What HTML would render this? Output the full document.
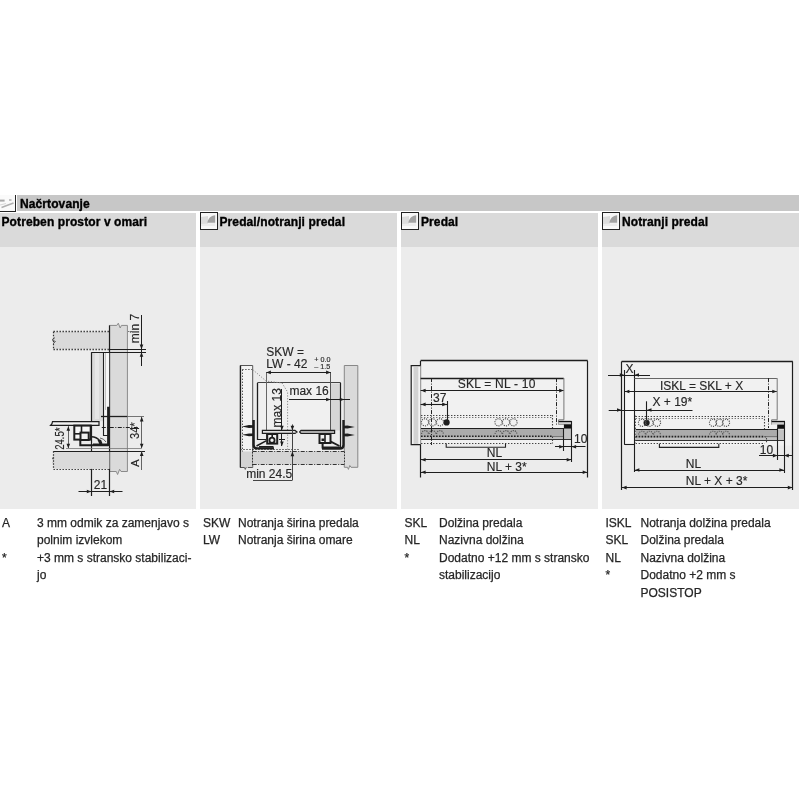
<!DOCTYPE html>
<html><head><meta charset="utf-8">
<style>
html,body{margin:0;padding:0;background:#fff;width:800px;height:800px;overflow:hidden;}
body{position:relative;filter:grayscale(1);font-family:"Liberation Sans",sans-serif;color:#262626;}
.a{position:absolute;}
.hb{left:17px;top:195px;width:782px;height:16px;background:#c7c7c7;}
.ch{top:213px;height:34px;background:#dadada;}
.cc{top:247px;height:262px;background:#ececec;}
.c1{left:0;width:196px;}
.c2{left:200px;width:197px;}
.c3{left:401px;width:197px;}
.c4{left:602px;width:197px;}
.bt{font-weight:bold;font-size:12px;color:#000;white-space:nowrap;line-height:14px;letter-spacing:0.1px;-webkit-text-stroke:0.35px #000;}
.tx{font-size:12px;line-height:17.4px;white-space:nowrap;color:#262626;-webkit-text-stroke:0.25px #262626;}
.ic{box-sizing:border-box;width:17.8px;height:17.6px;border:1.4px solid #222;background:#f8f8f8;overflow:hidden;}
svg.dw{position:absolute;left:0;top:0;filter:blur(0.25px);}
</style></head><body>
<div class="a hb"></div>
<div class="a" style="left:0;top:194.8px;width:15.3px;height:16.3px;border-right:1.5px solid #262626;border-bottom:1.5px solid #262626;background:#fafafa;overflow:hidden;"><svg width="16" height="17" style="position:absolute;left:0;top:0"><path d="M0,5.6 L4.6,5.6" stroke="#a8a8a8" stroke-width="2"/><path d="M9,5 L11.5,5" stroke="#b4b4b4" stroke-width="1.6"/><path d="M1.5,12.5 L13.5,8" stroke="#b0b0b0" stroke-width="1.6"/><path d="M0,10 L6,8.5" stroke="#d8d8d8" stroke-width="1.2"/></svg></div>
<div class="a bt" style="left:20px;top:196.5px;">Načrtovanje</div>

<div class="a ch c1"></div><div class="a ch c2"></div><div class="a ch c3"></div><div class="a ch c4"></div>
<div class="a cc c1"></div><div class="a cc c2"></div><div class="a cc c3"></div><div class="a cc c4"></div>

<div class="a bt" style="left:1.5px;top:215px;">Potreben prostor v omari</div>
<div class="a ic" style="left:200px;top:212.2px;"><svg width="15.2" height="15" viewBox="0 0 15.2 15" style="position:absolute;left:0;top:0"><path d="M0,4 L7,3 L7,11.5 L0,12 Z" fill="#dcdcdc"/><path d="M0,11 L14.2,10 L14.2,13 L0,13 Z" fill="#ececec"/><path d="M6.4,9.8 C6.8,5.5 9.8,2.6 14.2,2.2 L14.2,9.8 Z" fill="#a2a2a2"/></svg></div>
<div class="a bt" style="left:219.5px;top:215px;">Predal/notranji predal</div>
<div class="a ic" style="left:401px;top:212.2px;"><svg width="15.2" height="15" viewBox="0 0 15.2 15" style="position:absolute;left:0;top:0"><path d="M0,4 L7,3 L7,11.5 L0,12 Z" fill="#dcdcdc"/><path d="M0,11 L14.2,10 L14.2,13 L0,13 Z" fill="#ececec"/><path d="M6.4,9.8 C6.8,5.5 9.8,2.6 14.2,2.2 L14.2,9.8 Z" fill="#a2a2a2"/></svg></div>
<div class="a bt" style="left:421px;top:215px;">Predal</div>
<div class="a ic" style="left:602px;top:212.2px;"><svg width="15.2" height="15" viewBox="0 0 15.2 15" style="position:absolute;left:0;top:0"><path d="M0,4 L7,3 L7,11.5 L0,12 Z" fill="#dcdcdc"/><path d="M0,11 L14.2,10 L14.2,13 L0,13 Z" fill="#ececec"/><path d="M6.4,9.8 C6.8,5.5 9.8,2.6 14.2,2.2 L14.2,9.8 Z" fill="#a2a2a2"/></svg></div>
<div class="a bt" style="left:622px;top:215px;">Notranji predal</div>

<svg class="dw" width="800" height="800" viewBox="0 0 800 800" font-family="Liberation Sans, sans-serif">
<rect x="53.5" y="331.8" width="56" height="17.3" fill="#dadada"/>
<line x1="53.5" y1="331.5" x2="109.6" y2="331.5" stroke="#333" stroke-width="1.3" stroke-dasharray="1.4,1.6"/>
<line x1="53.5" y1="349.5" x2="109.6" y2="349.5" stroke="#333" stroke-width="1.3" stroke-dasharray="1.4,1.6"/>
<line x1="53.5" y1="331.8" x2="53.5" y2="349.2" stroke="#333" stroke-width="1.2" stroke-dasharray="1.4,1.6"/>
<line x1="128" y1="331.5" x2="132" y2="331.5" stroke="#777" stroke-width="1" stroke-dasharray="1.4,1.6"/>
<path d="M55,337.5 L52,340 L55.5,341.5 L53,344" fill="none" stroke="#555" stroke-width="0.9"/>
<path d="M55,456 L52,458.5 L55.5,460 L53,462.5" fill="none" stroke="#555" stroke-width="0.9"/>
<path d="M109.6,471.5 L109.6,325.4 L116.8,325.4 L118.3,323.2 L120.2,328 L121.4,325.4 L127.4,325.4 L127.4,471.5 L121,471.5 L119.6,469.3 L117.6,474.5 L116.3,471.5 Z" fill="#dadada" stroke="#8a8a8a" stroke-width="1"/>
<line x1="109.5" y1="325.4" x2="109.5" y2="496" stroke="#1e1e1e" stroke-width="1.2"/>
<rect x="91.4" y="352.2" width="12.3" height="69" fill="#dadada"/>
<rect x="95" y="353" width="4" height="66" fill="#e6e6e6"/>
<rect x="104.2" y="352.8" width="5" height="63.5" fill="#f6f6f6"/>
<line x1="91.5" y1="352.2" x2="91.5" y2="496" stroke="#1e1e1e" stroke-width="1.2"/>
<path d="M103.5,352.2 L103.5,435.5 L108,435.5" fill="none" stroke="#1e1e1e" stroke-width="1.1"/>
<line x1="105.5" y1="352.2" x2="105.5" y2="410" stroke="#aaa" stroke-width="0.7"/>
<line x1="109.4" y1="349.5" x2="146" y2="349.5" stroke="#1e1e1e" stroke-width="1.2"/>
<line x1="91.4" y1="352.5" x2="146" y2="352.5" stroke="#1e1e1e" stroke-width="1.2"/>
<line x1="141.5" y1="315" x2="141.5" y2="366" stroke="#1e1e1e" stroke-width="1"/>
<polygon points="141.50,349.20 139.70,344.60 143.30,344.60" fill="#1e1e1e"/>
<polygon points="141.50,352.20 139.70,356.80 143.30,356.80" fill="#1e1e1e"/>
<text x="138.6" y="343.2" font-size="12" text-anchor="start" fill="#262626" stroke="#262626" stroke-width="0.15" transform="rotate(-90 138.6 343.2)">min 7</text>
<rect x="53.5" y="451.3" width="56" height="17.6" fill="#dadada"/>
<line x1="53.5" y1="451.3" x2="53.5" y2="469" stroke="#333" stroke-width="1.2" stroke-dasharray="1.4,1.6"/>
<line x1="53.5" y1="469.5" x2="109.6" y2="469.5" stroke="#333" stroke-width="1.2" stroke-dasharray="1.4,1.6"/>
<line x1="53.5" y1="451.5" x2="145" y2="451.5" stroke="#1e1e1e" stroke-width="1.2"/>
<line x1="66" y1="448.5" x2="141.5" y2="448.5" stroke="#777" stroke-width="0.8"/>
<line x1="101" y1="416.5" x2="127.4" y2="416.5" stroke="#1e1e1e" stroke-width="1.3"/>
<line x1="127.4" y1="416.5" x2="144" y2="416.5" stroke="#666" stroke-width="0.9"/>
<line x1="101.8" y1="427.5" x2="138.5" y2="427.5" stroke="#1e1e1e" stroke-width="1" stroke-dasharray="4,1.5,1,1.5"/>
<path d="M108.4,406.7 L108.4,444.8 L93,444.8" fill="none" stroke="#1e1e1e" stroke-width="2.6"/>
<path d="M52.5,421.6 L99,421.6 L99,425.4 L50.5,425.4 L52,423.6 Z" fill="#f3f3f3" stroke="#1e1e1e" stroke-width="1.2"/>
<rect x="74.3" y="425.6" width="16.4" height="14" fill="#f6f6f6" stroke="#1e1e1e" stroke-width="2"/>
<line x1="81.5" y1="425.6" x2="81.5" y2="433.8" stroke="#1e1e1e" stroke-width="1.6"/>
<line x1="74.3" y1="433.8" x2="81.5" y2="433.8" stroke="#1e1e1e" stroke-width="1.6"/>
<rect x="80.5" y="432.6" width="8.2" height="7.4" fill="#f0f0f0" stroke="#1e1e1e" stroke-width="2"/>
<path d="M80.3,440 L80.3,445.2 L108.5,445.2" fill="none" stroke="#1e1e1e" stroke-width="2"/>
<path d="M91.5,436.8 Q96.5,437 99.5,440.5 L101.5,444.5" fill="none" stroke="#1e1e1e" stroke-width="1.4"/>
<path d="M97.5,440 L101,439.8 L102.5,443.5 L99.5,444.2 Z" fill="#1e1e1e"/>
<path d="M100,438 Q104,438.5 106,442" fill="none" stroke="#555" stroke-width="0.9"/>
<line x1="68.5" y1="426.2" x2="68.5" y2="448" stroke="#555" stroke-width="0.9"/>
<polygon points="68.30,426.20 66.50,430.80 70.10,430.80" fill="#1e1e1e"/>
<polygon points="68.30,448.30 66.50,443.70 70.10,443.70" fill="#1e1e1e"/>
<text x="63.8" y="449.8" font-size="12" text-anchor="start" fill="#262626" stroke="#262626" stroke-width="0.15" transform="rotate(-90 63.8 449.8)" textLength="22.4" lengthAdjust="spacingAndGlyphs">24.5*</text>
<line x1="141.5" y1="416.8" x2="141.5" y2="448.3" stroke="#555" stroke-width="0.9"/>
<polygon points="141.70,416.80 139.90,421.40 143.50,421.40" fill="#1e1e1e"/>
<polygon points="141.70,448.30 139.90,443.70 143.50,443.70" fill="#1e1e1e"/>
<text x="138.6" y="439" font-size="12" text-anchor="start" fill="#262626" stroke="#262626" stroke-width="0.15" transform="rotate(-90 138.6 439)" textLength="16.6" lengthAdjust="spacingAndGlyphs">34*</text>
<line x1="141.5" y1="451.3" x2="141.5" y2="470" stroke="#555" stroke-width="0.9"/>
<polygon points="141.70,451.30 139.90,455.90 143.50,455.90" fill="#1e1e1e"/>
<text x="138.6" y="467" font-size="11.6" text-anchor="start" fill="#262626" stroke="#262626" stroke-width="0.15" transform="rotate(-90 138.6 467)">A</text>
<line x1="78.5" y1="491.5" x2="122.5" y2="491.5" stroke="#1e1e1e" stroke-width="1.1"/>
<polygon points="91.40,491.50 86.80,489.70 86.80,493.30" fill="#1e1e1e"/>
<polygon points="109.60,491.50 114.20,489.70 114.20,493.30" fill="#1e1e1e"/>
<text x="100.5" y="489" font-size="12" text-anchor="middle" fill="#262626" stroke="#262626" stroke-width="0.15">21</text>
<path d="M240.3,365.5 L252.7,365.5 L252.7,467.5 L248,467.5 L246.8,465.6 L245.3,469.4 L244.5,467.5 L240.3,467.5 Z" fill="#f3f3f3" stroke="#555" stroke-width="1"/>
<line x1="240.5" y1="365.5" x2="240.5" y2="467.5" stroke="#1e1e1e" stroke-width="1.3"/>
<line x1="242.5" y1="369.6" x2="242.5" y2="467" stroke="#555" stroke-width="1" stroke-dasharray="1.4,1.6"/>
<line x1="242.2" y1="369.5" x2="252.7" y2="369.5" stroke="#555" stroke-width="1" stroke-dasharray="1.4,1.6"/>
<rect x="240.9" y="451.5" width="11.3" height="15.5" fill="#d4d4d4"/>
<path d="M344.3,365.5 L357.8,365.5 L357.8,467.3 L351,467.3 L349.8,465.5 L348.4,469.4 L347.5,467.3 L344.3,467.3 Z" fill="#dadada" stroke="#888" stroke-width="1"/>
<rect x="257.4" y="382.9" width="83.3" height="47" fill="#f0f0f0"/>
<line x1="257.4" y1="382.5" x2="340.7" y2="382.5" stroke="#444" stroke-width="1.2"/>
<line x1="257.5" y1="382.9" x2="257.5" y2="440" stroke="#1e1e1e" stroke-width="1.3"/>
<line x1="257.4" y1="439.5" x2="266" y2="439.5" stroke="#1e1e1e" stroke-width="1"/>
<line x1="266.5" y1="372.4" x2="266.5" y2="439.8" stroke="#666" stroke-width="1"/>
<rect x="330.7" y="383.5" width="10" height="47" fill="#d6d6d6"/>
<line x1="330.5" y1="372" x2="330.5" y2="430" stroke="#555" stroke-width="1"/>
<line x1="340.5" y1="382.9" x2="340.5" y2="449" stroke="#1e1e1e" stroke-width="1.2"/>
<path d="M252.7,369.6 L266,381 L282,383 L287.6,392 L287.6,451" fill="none" stroke="#888" stroke-width="1" stroke-dasharray="1.2,1.6"/>
<line x1="266.3" y1="372.5" x2="330.7" y2="372.5" stroke="#1e1e1e" stroke-width="1.1"/>
<polygon points="266.30,372.40 270.90,370.60 270.90,374.20" fill="#1e1e1e"/>
<polygon points="330.70,372.40 326.10,370.60 326.10,374.20" fill="#1e1e1e"/>
<text x="266.3" y="356.2" font-size="12" text-anchor="start" fill="#262626" stroke="#262626" stroke-width="0.15">SKW =</text>
<text x="266.3" y="367.5" font-size="12" text-anchor="start" fill="#262626" stroke="#262626" stroke-width="0.15">LW - 42</text>
<text x="314.2" y="361.8" font-size="7.2" text-anchor="start" fill="#262626" stroke="#262626" stroke-width="0.15">+ 0.0</text>
<text x="314.2" y="369.4" font-size="7.2" text-anchor="start" fill="#262626" stroke="#262626" stroke-width="0.15">– 1.5</text>
<text x="289.4" y="395.2" font-size="12" text-anchor="start" fill="#262626" stroke="#262626" stroke-width="0.15">max 16</text>
<line x1="289" y1="399.5" x2="350" y2="399.5" stroke="#1e1e1e" stroke-width="1"/>
<polygon points="330.70,399.50 326.10,397.70 326.10,401.30" fill="#1e1e1e"/>
<polygon points="344.40,399.50 339.80,397.70 339.80,401.30" fill="#1e1e1e"/>
<text x="280.8" y="427.5" font-size="12" text-anchor="start" fill="#262626" stroke="#262626" stroke-width="0.15" transform="rotate(-90 280.8 427.5)">max 13</text>
<line x1="281.5" y1="389" x2="281.5" y2="446" stroke="#1e1e1e" stroke-width="1"/>
<polygon points="281.90,430.30 280.10,425.70 283.70,425.70" fill="#1e1e1e"/>
<polygon points="281.90,446.20 280.10,441.60 283.70,441.60" fill="#1e1e1e"/>
<line x1="279" y1="439.5" x2="285" y2="439.5" stroke="#1e1e1e" stroke-width="1"/>
<rect x="252.7" y="451.5" width="91.6" height="12.8" fill="#d4d4d4"/>
<line x1="240.3" y1="449.5" x2="300" y2="449.5" stroke="#444" stroke-width="1" stroke-dasharray="1.4,1.6"/>
<line x1="252.7" y1="451.5" x2="344.3" y2="451.5" stroke="#333" stroke-width="1.1" stroke-dasharray="4,1.5,1,1.5"/>
<line x1="252.7" y1="464.5" x2="344.3" y2="464.5" stroke="#333" stroke-width="1.1" stroke-dasharray="4,1.5,1,1.5"/>
<line x1="252.5" y1="449" x2="252.5" y2="467" stroke="#333" stroke-width="1" stroke-dasharray="1.4,1.6"/>
<line x1="344.5" y1="451.6" x2="344.5" y2="464.3" stroke="#333" stroke-width="1" stroke-dasharray="1.4,1.6"/>
<path d="M241.8,426.5 L249,425.1 L253,425.3 L253,427.7 L249,427.9 Z" fill="#1e1e1e"/>
<path d="M241.8,434.8 L249,433.40000000000003 L253,433.6 L253,436.0 L249,436.2 Z" fill="#1e1e1e"/>
<path d="M354.8,427 L347.5,425.6 L343.5,425.8 L343.5,428.2 L347.5,428.4 Z" fill="#1e1e1e"/>
<path d="M354.8,435 L347.5,433.6 L343.5,433.8 L343.5,436.2 L347.5,436.4 Z" fill="#1e1e1e"/>
<path d="M253.6,420 L253.6,445 Q253.6,448.4 257,448.4 L274,448.4" fill="none" stroke="#1e1e1e" stroke-width="2.4"/>
<path d="M343.5,420 L343.5,445 Q343.5,448.6 340,448.6 L322,448.6" fill="none" stroke="#1e1e1e" stroke-width="2.4"/>
<path d="M262.4,430.4 L295,430.4 L297,431.9 L295,433.4 L262.4,433.4 Z" fill="#e2e2e2" stroke="#1e1e1e" stroke-width="1.2"/>
<path d="M301,430.4 L334.6,430.4 L334.6,433.5 L301,433.5 L299.6,431.9 Z" fill="#ababab" stroke="#1e1e1e" stroke-width="1.2"/>
<rect x="267.2" y="434" width="10" height="9.6" fill="#f2f2f2" stroke="#1e1e1e" stroke-width="2"/>
<circle cx="272" cy="440.2" r="2.6" fill="none" stroke="#1e1e1e" stroke-width="1.8"/>
<line x1="272.2" y1="434" x2="272.2" y2="437.5" stroke="#1e1e1e" stroke-width="1.6"/>
<path d="M256.5,446 L266.5,440.6" fill="none" stroke="#1e1e1e" stroke-width="1.5"/>
<path d="M259,446.8 L273.5,446.8" fill="none" stroke="#1e1e1e" stroke-width="1.6"/>
<rect x="319.5" y="434" width="11" height="9" fill="#f2f2f2" stroke="#1e1e1e" stroke-width="2"/>
<line x1="325" y1="434" x2="325" y2="443" stroke="#1e1e1e" stroke-width="1.6"/>
<rect x="321.5" y="438.5" width="3" height="2.5" fill="#1e1e1e"/>
<path d="M322.6,443 L322.6,447.6 L340,447.6" fill="none" stroke="#1e1e1e" stroke-width="2"/>
<path d="M330.8,441.6 L339.5,446" fill="none" stroke="#1e1e1e" stroke-width="1.8"/>
<line x1="292.5" y1="424.4" x2="292.5" y2="480.2" stroke="#444" stroke-width="1"/>
<polygon points="292.40,430.40 290.60,425.80 294.20,425.80" fill="#1e1e1e"/>
<polygon points="292.40,451.60 290.60,456.20 294.20,456.20" fill="#1e1e1e"/>
<line x1="253" y1="480.5" x2="292.4" y2="480.5" stroke="#444" stroke-width="1"/>
<text x="246.2" y="477.6" font-size="12" text-anchor="start" fill="#262626" stroke="#262626" stroke-width="0.15">min 24.5</text>
<rect x="420.6" y="360.8" width="167.1" height="83" fill="#f1f1f1"/>
<line x1="420.6" y1="360.5" x2="587.7" y2="360.5" stroke="#1e1e1e" stroke-width="1.3"/>
<line x1="420.5" y1="360.8" x2="420.5" y2="477.5" stroke="#1e1e1e" stroke-width="1.2"/>
<line x1="587.5" y1="360.8" x2="587.5" y2="477.5" stroke="#1e1e1e" stroke-width="1.2"/>
<rect x="411.2" y="365.6" width="9.4" height="79" fill="#f4f4f4"/>
<rect x="413.5" y="367" width="4.8" height="77" fill="#d2d2d2"/>
<path d="M420.6,365.6 L411.2,365.6 L411.2,444.6 L420.6,444.6" fill="none" stroke="#1e1e1e" stroke-width="1.2"/>
<line x1="420.6" y1="378.5" x2="563.8" y2="378.5" stroke="#1e1e1e" stroke-width="1.3"/>
<line x1="431.5" y1="378.1" x2="431.5" y2="445" stroke="#222" stroke-width="1" stroke-dasharray="4,1.5,1,1.5"/>
<line x1="556.5" y1="378.1" x2="556.5" y2="426" stroke="#222" stroke-width="1" stroke-dasharray="4,1.5,1,1.5"/>
<text x="457.8" y="388.2" font-size="12" text-anchor="start" fill="#262626" stroke="#262626" stroke-width="0.15" textLength="77.6" lengthAdjust="spacing">SKL = NL - 10</text>
<line x1="420.6" y1="390.5" x2="563.8" y2="390.5" stroke="#1e1e1e" stroke-width="1.1"/>
<polygon points="421.00,390.60 425.60,388.80 425.60,392.40" fill="#1e1e1e"/>
<polygon points="563.80,390.60 559.20,388.80 559.20,392.40" fill="#1e1e1e"/>
<text x="433.1" y="401.6" font-size="12" text-anchor="start" fill="#262626" stroke="#262626" stroke-width="0.15">37</text>
<line x1="420.6" y1="404.5" x2="447" y2="404.5" stroke="#1e1e1e" stroke-width="1.1"/>
<polygon points="421.00,404.40 425.60,402.60 425.60,406.20" fill="#1e1e1e"/>
<polygon points="446.80,404.40 442.20,402.60 442.20,406.20" fill="#1e1e1e"/>
<line x1="447.5" y1="401" x2="447.5" y2="421" stroke="#1e1e1e" stroke-width="1.1"/>
<circle cx="446.6" cy="422.4" r="3.1" fill="#1e1e1e"/>
<line x1="421" y1="415.5" x2="552.5" y2="415.5" stroke="#444" stroke-width="1.2" stroke-dasharray="1.4,1.6"/>
<line x1="421" y1="417.5" x2="552.5" y2="417.5" stroke="#777" stroke-width="1" stroke-dasharray="1.4,1.6"/>
<line x1="552.5" y1="415.1" x2="552.5" y2="437" stroke="#444" stroke-width="1.1" stroke-dasharray="1.4,1.6"/>
<line x1="421" y1="443.5" x2="552.5" y2="443.5" stroke="#444" stroke-width="1.2" stroke-dasharray="1.4,1.6"/>
<circle cx="425" cy="422.3" r="3.6" fill="none" stroke="#555" stroke-width="1.1" stroke-dasharray="1.2,1"/>
<circle cx="432.5" cy="422.3" r="3.6" fill="none" stroke="#555" stroke-width="1.1" stroke-dasharray="1.2,1"/>
<circle cx="440" cy="422.3" r="3.6" fill="none" stroke="#555" stroke-width="1.1" stroke-dasharray="1.2,1"/>
<circle cx="498.5" cy="422.3" r="3.6" fill="none" stroke="#555" stroke-width="1.1" stroke-dasharray="1.2,1"/>
<circle cx="506" cy="422.3" r="3.6" fill="none" stroke="#555" stroke-width="1.1" stroke-dasharray="1.2,1"/>
<circle cx="513.5" cy="422.3" r="3.6" fill="none" stroke="#555" stroke-width="1.1" stroke-dasharray="1.2,1"/>
<rect x="421" y="428.5" width="143" height="11.3" fill="#ababab"/>
<rect x="563.9" y="428.5" width="7.6" height="11.3" fill="#c2c2c2"/>
<rect x="421" y="437.3" width="143" height="2.3" fill="#c0c0c0"/>
<line x1="421" y1="436.3" x2="552.5" y2="436.3" stroke="#222" stroke-width="1.6" stroke-dasharray="1.6,1.4"/>
<line x1="552.5" y1="436.5" x2="563.9" y2="436.5" stroke="#777" stroke-width="1"/>
<line x1="421" y1="428.5" x2="563.9" y2="428.5" stroke="#1e1e1e" stroke-width="1.2"/>
<line x1="421" y1="439.5" x2="571.5" y2="439.5" stroke="#333" stroke-width="1.2"/>
<path d="M421.6,434 A3.4,3.4 0 0 1 428.4,434" fill="none" stroke="#555" stroke-width="1.1" stroke-dasharray="1.2,1"/>
<path d="M429.1,434 A3.4,3.4 0 0 1 435.9,434" fill="none" stroke="#555" stroke-width="1.1" stroke-dasharray="1.2,1"/>
<path d="M436.6,434 A3.4,3.4 0 0 1 443.4,434" fill="none" stroke="#555" stroke-width="1.1" stroke-dasharray="1.2,1"/>
<path d="M495.1,434 A3.4,3.4 0 0 1 501.9,434" fill="none" stroke="#555" stroke-width="1.1" stroke-dasharray="1.2,1"/>
<path d="M502.6,434 A3.4,3.4 0 0 1 509.4,434" fill="none" stroke="#555" stroke-width="1.1" stroke-dasharray="1.2,1"/>
<path d="M510.1,434 A3.4,3.4 0 0 1 516.9,434" fill="none" stroke="#555" stroke-width="1.1" stroke-dasharray="1.2,1"/>
<line x1="431.5" y1="428.5" x2="431.5" y2="445" stroke="#222" stroke-width="1" stroke-dasharray="4,1.5,1,1.5"/>
<line x1="552.5" y1="436.6" x2="552.5" y2="443.6" stroke="#444" stroke-width="1.1" stroke-dasharray="1.4,1.6"/>
<path d="M563.9,378.1 L563.9,419.8 L558.6,419.8 L558.6,424.4 L571.5,424.4 L571.5,421.6 L559,421.6" fill="none" stroke="#777" stroke-width="1"/>
<rect x="558.6" y="421.2" width="13" height="3.2" fill="#cfcfcf"/>
<line x1="558.6" y1="421.5" x2="571.5" y2="421.5" stroke="#111" stroke-width="1.3"/>
<rect x="563.9" y="424.4" width="7.6" height="4.2" fill="#111"/>
<path d="M446.2,443.6 L446.2,447.2 L505.5,447.2 L505.5,443.6" fill="none" stroke="#222" stroke-width="1.1"/>
<line x1="563.5" y1="428" x2="563.5" y2="451" stroke="#1e1e1e" stroke-width="1.1"/>
<line x1="571.5" y1="421" x2="571.5" y2="462" stroke="#1e1e1e" stroke-width="1.1"/>
<line x1="555" y1="446.5" x2="585.5" y2="446.5" stroke="#1e1e1e" stroke-width="1"/>
<polygon points="563.80,446.80 559.20,445.00 559.20,448.60" fill="#1e1e1e"/>
<polygon points="571.50,446.80 576.10,445.00 576.10,448.60" fill="#1e1e1e"/>
<text x="574" y="443.2" font-size="12" text-anchor="start" fill="#262626" stroke="#262626" stroke-width="0.15">10</text>
<text x="486.8" y="457" font-size="12" text-anchor="start" fill="#262626" stroke="#262626" stroke-width="0.15">NL</text>
<line x1="420.6" y1="459.5" x2="571.5" y2="459.5" stroke="#1e1e1e" stroke-width="1.1"/>
<polygon points="421.00,459.70 425.60,457.90 425.60,461.50" fill="#1e1e1e"/>
<polygon points="571.30,459.70 566.70,457.90 566.70,461.50" fill="#1e1e1e"/>
<text x="486.8" y="470.5" font-size="12" text-anchor="start" fill="#262626" stroke="#262626" stroke-width="0.15">NL + 3*</text>
<line x1="420.6" y1="472.5" x2="587.7" y2="472.5" stroke="#1e1e1e" stroke-width="1.1"/>
<polygon points="421.00,472.30 425.60,470.50 425.60,474.10" fill="#1e1e1e"/>
<polygon points="587.30,472.30 582.70,470.50 582.70,474.10" fill="#1e1e1e"/>
<rect x="621.6" y="361.5" width="171" height="84" fill="#f1f1f1"/>
<line x1="621.6" y1="361.5" x2="792.8" y2="361.5" stroke="#1e1e1e" stroke-width="1.3"/>
<line x1="621.5" y1="361.5" x2="621.5" y2="490" stroke="#1e1e1e" stroke-width="1.2"/>
<line x1="792.5" y1="361.5" x2="792.5" y2="490" stroke="#1e1e1e" stroke-width="1.2"/>
<rect x="624.4" y="378" width="10" height="66.7" fill="#f7f7f7"/>
<line x1="624.5" y1="370" x2="624.5" y2="444.7" stroke="#1e1e1e" stroke-width="1.1"/>
<line x1="624.4" y1="444.5" x2="634.4" y2="444.5" stroke="#1e1e1e" stroke-width="1.1"/>
<line x1="634.5" y1="370" x2="634.5" y2="472" stroke="#1e1e1e" stroke-width="1.1"/>
<text x="625.4" y="372.6" font-size="12" text-anchor="start" fill="#262626" stroke="#262626" stroke-width="0.15">X</text>
<line x1="608" y1="375.5" x2="650" y2="375.5" stroke="#1e1e1e" stroke-width="1.1"/>
<polygon points="624.40,375.00 619.80,373.20 619.80,376.80" fill="#1e1e1e"/>
<polygon points="634.40,375.00 639.00,373.20 639.00,376.80" fill="#1e1e1e"/>
<line x1="634.4" y1="378.5" x2="776.9" y2="378.5" stroke="#666" stroke-width="1.1"/>
<line x1="768.5" y1="378.1" x2="768.5" y2="428" stroke="#222" stroke-width="1" stroke-dasharray="4,1.5,1,1.5"/>
<text x="660" y="389.5" font-size="12" text-anchor="start" fill="#262626" stroke="#262626" stroke-width="0.15">ISKL = SKL + X</text>
<line x1="624.4" y1="391.5" x2="776.9" y2="391.5" stroke="#1e1e1e" stroke-width="1.1"/>
<polygon points="624.80,391.50 629.40,389.70 629.40,393.30" fill="#1e1e1e"/>
<polygon points="776.90,391.50 772.30,389.70 772.30,393.30" fill="#1e1e1e"/>
<text x="652.5" y="406.3" font-size="12" text-anchor="start" fill="#262626" stroke="#262626" stroke-width="0.15">X + 19*</text>
<line x1="608.7" y1="410.5" x2="692.5" y2="410.5" stroke="#1e1e1e" stroke-width="1.1"/>
<polygon points="621.60,410.00 617.00,408.20 617.00,411.80" fill="#1e1e1e"/>
<polygon points="646.90,410.00 651.50,408.20 651.50,411.80" fill="#1e1e1e"/>
<line x1="646.5" y1="401.3" x2="646.5" y2="421" stroke="#1e1e1e" stroke-width="1.1"/>
<circle cx="646.6" cy="422.8" r="3.1" fill="#1e1e1e"/>
<line x1="635.6" y1="416.5" x2="764.8" y2="416.5" stroke="#444" stroke-width="1.2" stroke-dasharray="1.4,1.6"/>
<line x1="635.6" y1="418.5" x2="764.8" y2="418.5" stroke="#777" stroke-width="1" stroke-dasharray="1.4,1.6"/>
<line x1="635.5" y1="415.6" x2="635.5" y2="443" stroke="#555" stroke-width="1" stroke-dasharray="1.4,1.6"/>
<line x1="764.5" y1="416" x2="764.5" y2="437" stroke="#444" stroke-width="1.1" stroke-dasharray="1.4,1.6"/>
<line x1="635.6" y1="443.5" x2="764.8" y2="443.5" stroke="#444" stroke-width="1.2" stroke-dasharray="1.4,1.6"/>
<circle cx="642" cy="422.8" r="3.6" fill="none" stroke="#555" stroke-width="1.1" stroke-dasharray="1.2,1"/>
<circle cx="649.5" cy="422.8" r="3.6" fill="none" stroke="#555" stroke-width="1.1" stroke-dasharray="1.2,1"/>
<circle cx="657" cy="422.8" r="3.6" fill="none" stroke="#555" stroke-width="1.1" stroke-dasharray="1.2,1"/>
<circle cx="713" cy="422.8" r="3.6" fill="none" stroke="#555" stroke-width="1.1" stroke-dasharray="1.2,1"/>
<circle cx="719.5" cy="422.8" r="3.6" fill="none" stroke="#555" stroke-width="1.1" stroke-dasharray="1.2,1"/>
<circle cx="726" cy="422.8" r="3.6" fill="none" stroke="#555" stroke-width="1.1" stroke-dasharray="1.2,1"/>
<rect x="635.6" y="429.4" width="141.6" height="11" fill="#ababab"/>
<rect x="777.2" y="429.4" width="7" height="11" fill="#c2c2c2"/>
<rect x="635.6" y="437.6" width="141.6" height="2.3" fill="#c0c0c0"/>
<line x1="635.6" y1="436.6" x2="764" y2="436.6" stroke="#222" stroke-width="1.6" stroke-dasharray="1.6,1.4"/>
<line x1="764" y1="436.5" x2="777.2" y2="436.5" stroke="#777" stroke-width="1"/>
<line x1="635.6" y1="429.5" x2="777.2" y2="429.5" stroke="#1e1e1e" stroke-width="1.2"/>
<line x1="635.6" y1="440.5" x2="784.2" y2="440.5" stroke="#333" stroke-width="1.2"/>
<path d="M638.6,434.6 A3.4,3.4 0 0 1 645.4,434.6" fill="none" stroke="#555" stroke-width="1.1" stroke-dasharray="1.2,1"/>
<path d="M646.1,434.6 A3.4,3.4 0 0 1 652.9,434.6" fill="none" stroke="#555" stroke-width="1.1" stroke-dasharray="1.2,1"/>
<path d="M653.6,434.6 A3.4,3.4 0 0 1 660.4,434.6" fill="none" stroke="#555" stroke-width="1.1" stroke-dasharray="1.2,1"/>
<path d="M709.6,434.6 A3.4,3.4 0 0 1 716.4,434.6" fill="none" stroke="#555" stroke-width="1.1" stroke-dasharray="1.2,1"/>
<path d="M716.1,434.6 A3.4,3.4 0 0 1 722.9,434.6" fill="none" stroke="#555" stroke-width="1.1" stroke-dasharray="1.2,1"/>
<path d="M722.6,434.6 A3.4,3.4 0 0 1 729.4,434.6" fill="none" stroke="#555" stroke-width="1.1" stroke-dasharray="1.2,1"/>
<path d="M764.7,437 L766.5,437 L766.5,443.6" fill="none" stroke="#444" stroke-width="1.1" stroke-dasharray="1.4,1.4"/>
<path d="M777.2,378.1 L777.2,419.8 L771.6,419.8 L771.6,424.6" fill="none" stroke="#777" stroke-width="1"/>
<rect x="771.6" y="421.2" width="13.4" height="3.4" fill="#cfcfcf"/>
<line x1="771.6" y1="421.5" x2="785" y2="421.5" stroke="#111" stroke-width="1.3"/>
<rect x="777.2" y="424.6" width="7" height="4.2" fill="#111"/>
<path d="M659.4,443.8 L659.4,447.4 L718.8,447.4 L718.8,443.8" fill="none" stroke="#222" stroke-width="1.1"/>
<line x1="777.5" y1="428" x2="777.5" y2="460" stroke="#1e1e1e" stroke-width="1.1"/>
<line x1="784.5" y1="421.5" x2="784.5" y2="473" stroke="#1e1e1e" stroke-width="1.1"/>
<text x="759.8" y="454" font-size="12" text-anchor="start" fill="#262626" stroke="#262626" stroke-width="0.15">10</text>
<line x1="759" y1="455.5" x2="792" y2="455.5" stroke="#1e1e1e" stroke-width="1"/>
<polygon points="777.50,455.60 772.90,453.80 772.90,457.40" fill="#1e1e1e"/>
<polygon points="784.20,455.60 788.80,453.80 788.80,457.40" fill="#1e1e1e"/>
<text x="685.8" y="467.6" font-size="12" text-anchor="start" fill="#262626" stroke="#262626" stroke-width="0.15">NL</text>
<line x1="634.4" y1="470.5" x2="784.2" y2="470.5" stroke="#1e1e1e" stroke-width="1.1"/>
<polygon points="634.80,470.00 639.40,468.20 639.40,471.80" fill="#1e1e1e"/>
<polygon points="784.00,470.00 779.40,468.20 779.40,471.80" fill="#1e1e1e"/>
<text x="685.8" y="484.6" font-size="12" text-anchor="start" fill="#262626" stroke="#262626" stroke-width="0.15">NL + X + 3*</text>
<line x1="621.6" y1="487.5" x2="792.8" y2="487.5" stroke="#1e1e1e" stroke-width="1.1"/>
<polygon points="622.00,487.60 626.60,485.80 626.60,489.40" fill="#1e1e1e"/>
<polygon points="792.40,487.60 787.80,485.80 787.80,489.40" fill="#1e1e1e"/>
</svg>

<div class="a tx" style="left:2px;top:515px;">A<br><br>*</div>
<div class="a tx" style="left:37px;top:515px;">3 mm odmik za zamenjavo s<br>polnim izvlekom<br>+3 mm s stransko stabilizaci-<br>jo</div>
<div class="a tx" style="left:203px;top:515px;">SKW<br>LW</div>
<div class="a tx" style="left:238px;top:515px;">Notranja širina predala<br>Notranja širina omare</div>
<div class="a tx" style="left:404.5px;top:515px;">SKL<br>NL<br>*</div>
<div class="a tx" style="left:439px;top:515px;">Dolžina predala<br>Nazivna dolžina<br>Dodatno +12 mm s stransko<br>stabilizacijo</div>
<div class="a tx" style="left:605.5px;top:515px;">ISKL<br>SKL<br>NL<br>*</div>
<div class="a tx" style="left:640.5px;top:515px;">Notranja dolžina predala<br>Dolžina predala<br>Nazivna dolžina<br>Dodatno +2 mm s<br>POSISTOP</div>
</body></html>
